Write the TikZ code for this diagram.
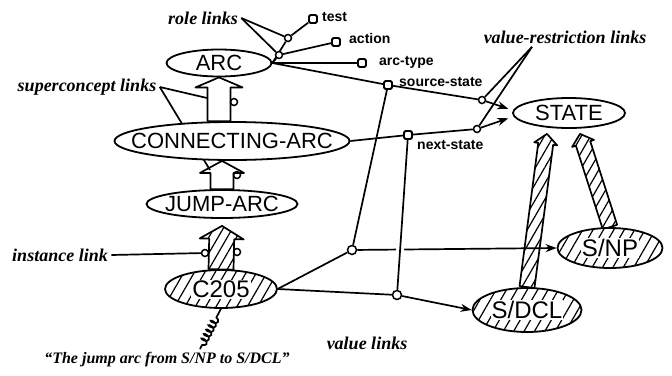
\documentclass[tikz,border=0pt]{standalone}
\usepackage{fontspec}
\setmainfont{Liberation Serif}
\setsansfont{Liberation Sans}
\usetikzlibrary{shapes.geometric,arrows.meta,calc,patterns.meta,backgrounds,decorations.pathmorphing}

\newcommand{\hl}[1]{{\setlength{\fboxsep}{1pt}\colorbox{white}{#1}}}

\tikzset{
  concept/.style={ellipse, draw, line width=1.8pt, fill=white, inner xsep=-20pt, inner ysep=0pt,
    font=\sffamily\fontsize{22}{25}\selectfont},
  individual/.style={concept, fill=none, preaction={fill=white},
    pattern={Lines[angle=60,distance=9pt,line width=1.2pt]}, font=\sffamily\fontsize{24}{28}\selectfont},
  rolebox/.style={rectangle, draw, line width=1.8pt, fill=white, rounded corners=1.5pt, minimum size=8pt, inner sep=0pt},
  knob/.style={circle, draw, line width=1.5pt, fill=white, minimum size=7pt, inner sep=0pt},
  ring/.style={circle, draw, line width=1.5pt, minimum size=7pt, inner sep=0pt},
  note/.style={font=\fontsize{18}{21}\selectfont\bfseries\itshape},
  slotlabel/.style={font=\sffamily\bfseries\fontsize{14}{16}\selectfont, inner sep=1pt},
  link/.style={line width=1.7pt},
  vlink/.style={link, -{Stealth[length=11pt,width=8pt]}},
  fatlink/.style n args={3}{line width=1.7pt, line join=round, fill=white, to path={
    ($(\tikztostart)!#1!90:(\tikztotarget)$)
    -- ($($(\tikztotarget)!#3!(\tikztostart)$)!#1!90:(\tikztotarget)$)
    -- ($($(\tikztotarget)!#3!(\tikztostart)$)!#2!90:(\tikztotarget)$)
    -- (\tikztotarget)
    -- ($($(\tikztotarget)!#3!(\tikztostart)$)!#2!-90:(\tikztotarget)$)
    -- ($($(\tikztotarget)!#3!(\tikztostart)$)!#1!-90:(\tikztotarget)$)
    -- ($(\tikztostart)!#1!-90:(\tikztotarget)$) -- cycle}},
  hatchlink/.style n args={3}{fatlink={#1}{#2}{#3}, preaction={fill=white},
    pattern={Lines[angle=60,distance=8pt,line width=1.2pt]}},
}

\begin{document}
\begin{tikzpicture}[x=1pt,y=-1pt]
  \useasboundingbox (0,0) rectangle (672,375);

  \node[concept, minimum width=105pt, minimum height=27pt] (arc) at (219,63) {ARC};
  \node[concept, minimum width=235pt, minimum height=38pt] (conn) at (232,141) {CONNECTING-ARC};
  \node[concept, minimum width=151pt, minimum height=28pt] (jump) at (222,204) {JUMP-ARC};
  \node[individual, minimum width=112pt, minimum height=38pt] (c205) at (221,289) {\hl{C205}};
  \node[concept, minimum width=112pt, minimum height=30pt] (state) at (569,113) {STATE};
  \node[individual, minimum width=105pt, minimum height=40pt] (snp) at (610,248) {\hl{S/NP}};
  \node[individual, minimum width=109pt, minimum height=44pt] (sdcl) at (527,310) {\hl{S/DCL}};

  \node[rolebox] (test) at (313,19) {};
  \node[rolebox] (action) at (336,42) {};
  \node[rolebox] (arctype) at (362,63) {};
  \node[rolebox] (source) at (388,85) {};
  \node[rolebox] (next) at (408,135) {};
  \node[slotlabel, anchor=west] (ltest) at (321,17) {test};
  \node[slotlabel, anchor=west] (laction) at (348,38) {action};
  \node[slotlabel, anchor=west] (ltype) at (378,62) {arc-type};
  \node[slotlabel, anchor=west] (lsource) at (398,82) {source-state};
  \node[slotlabel, anchor=west] (lnext) at (416,145) {next-state};

  \node[knob] (rk1) at (288,38) {};
  \node[knob] (rk2) at (279,55) {};
  \node[knob] (vr1) at (482,100) {};
  \node[knob] (vr2) at (477,129) {};
  \node[knob, minimum size=9pt] (va) at (352,250) {};
  \node[knob, minimum size=9pt] (vb) at (397,295) {};
  \node[ring] (sc1) at (234,102) {};
  \node[ring] (sc2) at (237,175) {};
  \node[ring] (in1) at (237,252) {};
  \node[knob] (in0) at (205,253) {};
  \coordinate (scl1) at (207,98);
  \coordinate (scl2) at (210,170);

  \node[note] (lrole) at (203,18) {role links};
  \node[note] (lsuper) at (87,87) {superconcept links};
  \node[note] (linst) at (60,255) {instance link};
  \node[note] (lvr) at (565,37) {value-restriction links};
  \node[note] (lval) at (367,343) {value links};
  \node[note, font=\fontsize{16}{19}\selectfont\bfseries\itshape] (lquote) at (167,360)
    {“The jump arc from S/NP to S/DCL”};
  \coordinate (qtip) at (200,349);

  \begin{scope}[on background layer]
    \draw[fatlink={11.5pt}{23.5pt}{10pt}] (arc.south |- conn.north) to (arc.south);
    \draw[fatlink={11.5pt}{22pt}{12pt}] (jump.north) to (jump.north |- conn.south);
    \draw[hatchlink={12.5pt}{22pt}{13pt}] (c205.north) to ($(jump.south)+(0,7)$);
    \draw[hatchlink={7.5pt}{11.5pt}{10pt}] (sdcl.north) to ($(state.south)+(-22,5)$);
    \draw[hatchlink={7.5pt}{11.5pt}{10pt}] (snp.north) to ($(state.south)+(11,5)$);

    \draw[link] (arc.east) -- (rk1) -- (test);
    \draw[link] (arc.east) -- (rk2) -- (action);
    \draw[link] (arc.east) -- (arctype);
    \draw[link] (arc.east) -- (source);
    \draw[vlink, shorten >=4pt] (source) -- (vr1) -- ([yshift=3pt]state.west);
    \draw[link] (conn.east) -- (next);
    \draw[vlink, shorten >=4pt] (next) -- (vr2) -- ([yshift=-4pt]state.west);
    \draw[link] (c205.east) -- (va);
    \draw[link] (c205.east) -- (vb);
    \draw[vlink] (va) -- (snp.west);
    \draw[vlink] (vb) -- (sdcl.west);
    \draw[link] (source) -- (va);
    \draw[link, preaction={draw=white, line width=8pt}] (next) -- (vb);

    \draw[link] (lrole.east) -- (rk1);
    \draw[link] (lrole.east) -- (rk2);
    \draw[link] (lsuper.east) -- (scl1);
    \draw[link] (lsuper.east) -- (scl2);
    \draw[link] (linst.east) -- (in0);
    \draw[link] ([xshift=-33pt]lvr.south) -- (vr1);
    \draw[link] ([xshift=-33pt]lvr.south) -- (vr2);
    \draw[link, decorate, decoration={coil, amplitude=3.5pt, segment length=5pt, pre length=10pt, post length=2pt}]
      (c205.south) -- (qtip);
  \end{scope}
\end{tikzpicture}
\end{document}
